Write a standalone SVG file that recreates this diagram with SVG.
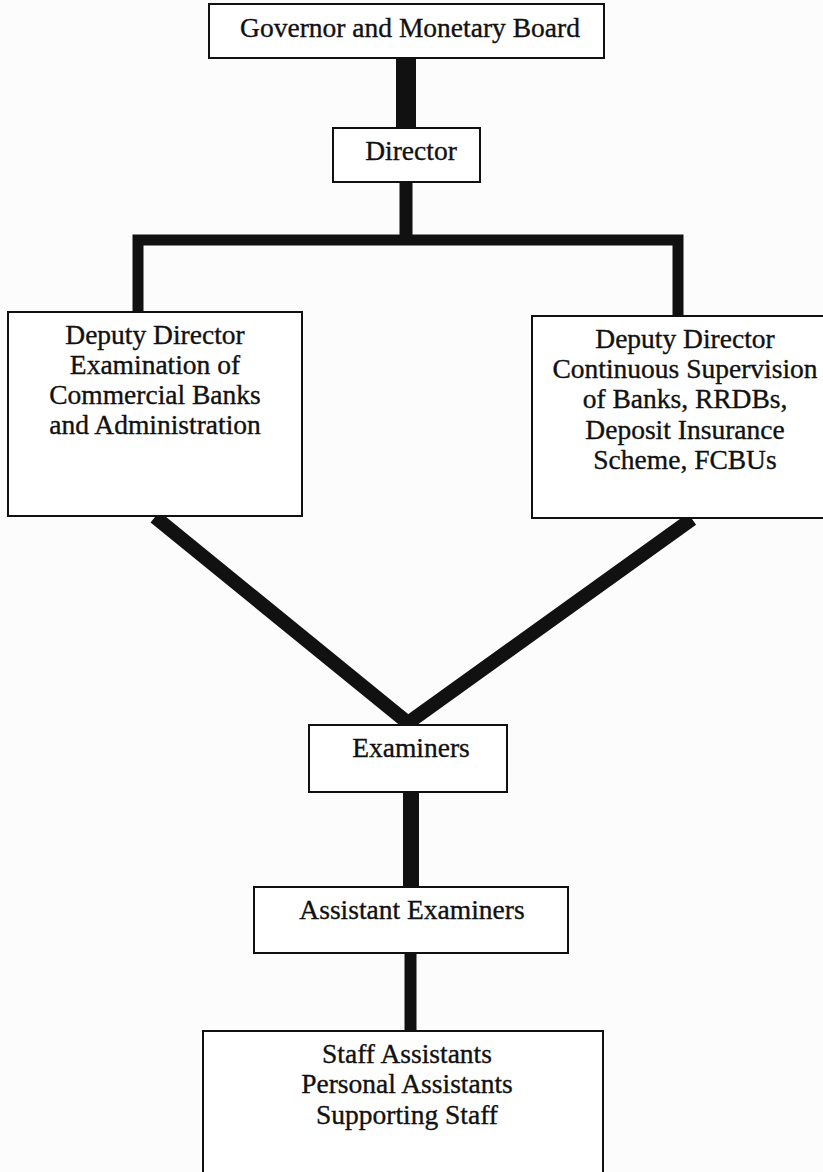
<svg xmlns="http://www.w3.org/2000/svg" width="823" height="1172" viewBox="0 0 823 1172">
<style>
.box{fill:#fff;stroke:#111;stroke-width:2}
.t{font-family:"Liberation Serif","Times New Roman",serif;font-size:27.5px;fill:#111;stroke:#111;stroke-width:0.35;text-anchor:middle}
.c{fill:none;stroke:#111;stroke-linejoin:miter;stroke-linecap:butt}
</style>
<rect width="823" height="1172" fill="#fcfcfc"/>
<g id="connectors">
<path class="c" d="M406,57 V129" stroke-width="20"/>
<path class="c" d="M406,181 V240" stroke-width="13"/>
<path class="c" d="M138,313 V240 H678 V318" stroke-width="11"/>
<polyline class="c" points="155,517 408,723 692,519" stroke-width="14"/>
<path class="c" d="M411,791 V888" stroke-width="16"/>
<path class="c" d="M410.5,952 V1032" stroke-width="12"/>
</g>
<g id="governor">
<rect class="box" x="209" y="4" width="395" height="54"/>
<text class="t" x="410" y="37">Governor and Monetary Board</text>
</g>
<g id="director">
<rect class="box" x="333" y="128" width="147" height="54"/>
<text class="t" x="411" y="160">Director</text>
</g>
<g id="deputy-left">
<rect class="box" x="8" y="312" width="294" height="204"/>
<text class="t" x="155" y="344">Deputy Director</text>
<text class="t" x="155" y="374">Examination of</text>
<text class="t" x="155" y="404">Commercial Banks</text>
<text class="t" x="155" y="434">and Administration</text>
</g>
<g id="deputy-right">
<rect class="box" x="532" y="316" width="300" height="202"/>
<text class="t" x="685" y="348">Deputy Director</text>
<text class="t" x="685" y="378">Continuous Supervision</text>
<text class="t" x="685" y="408">of Banks, RRDBs,</text>
<text class="t" x="685" y="439">Deposit Insurance</text>
<text class="t" x="685" y="469">Scheme, FCBUs</text>
</g>
<g id="examiners">
<rect class="box" x="309" y="725" width="198" height="67"/>
<text class="t" x="411" y="757">Examiners</text>
</g>
<g id="assistant-examiners">
<rect class="box" x="254" y="887" width="314" height="66"/>
<text class="t" x="412" y="919">Assistant Examiners</text>
</g>
<g id="staff">
<rect class="box" x="203" y="1031" width="400" height="150"/>
<text class="t" x="407" y="1063">Staff Assistants</text>
<text class="t" x="407" y="1093">Personal Assistants</text>
<text class="t" x="407" y="1124">Supporting Staff</text>
</g>
</svg>
